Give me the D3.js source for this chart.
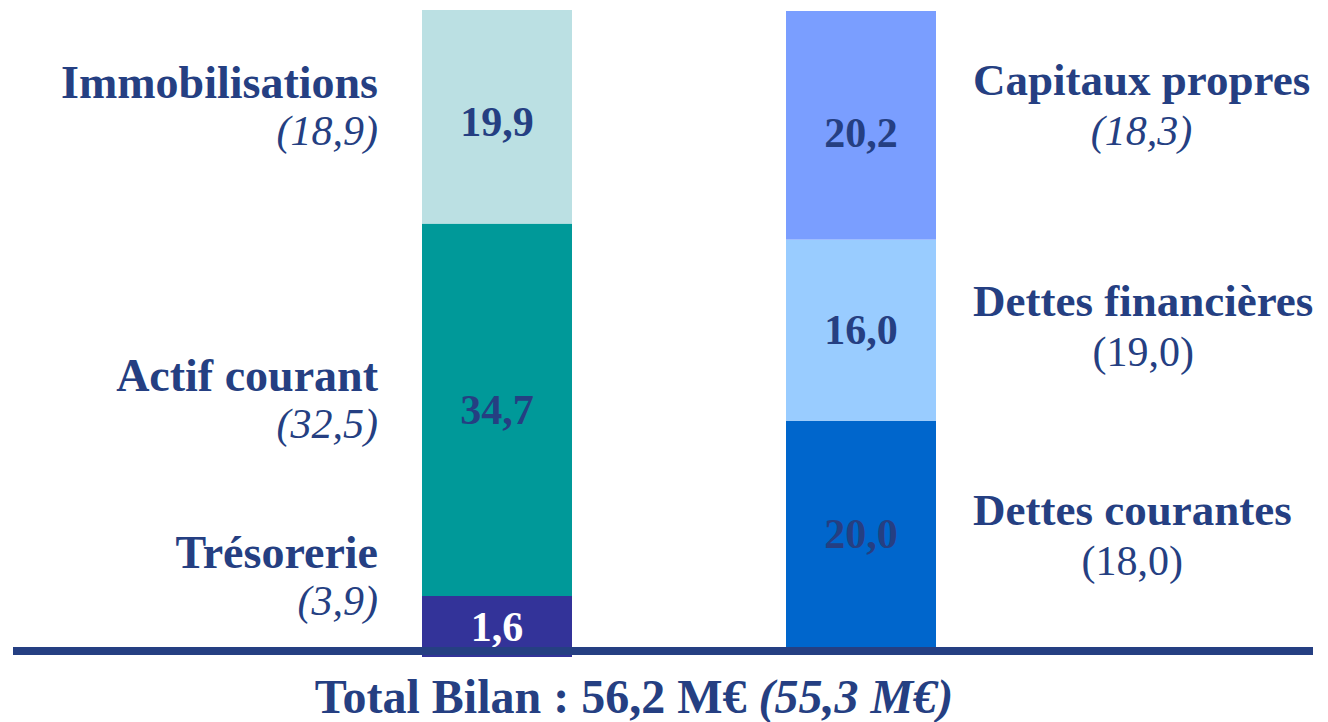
<!DOCTYPE html>
<html>
<head>
<meta charset="utf-8">
<script src="https://cdn.jsdelivr.net/npm/d3@7"></script>
<style>
  html, body { margin: 0; padding: 0; background: #fff; }
  svg { display: block; font-family: "Palatino Linotype", "Book Antiqua", Palatino, "Liberation Serif", serif; }
</style>
</head>
<body>
<script>
// Données (M€), de bas en haut
const actifCategories = ["Trésorerie", "Actif courant", "Immobilisations"];
const actifValues = [1.6, 34.7, 19.9];
const actifPrior = [3.9, 32.5, 18.9];
const actifColors = ["#333399", "#009999", "#bbe0e3"];
const actifValueColors = ["#ffffff", "#253f82", "#253f82"];

const passifCategories = ["Dettes courantes", "Dettes financières", "Capitaux propres"];
const passifValues = [20.0, 16.0, 20.2];
const passifPrior = [18.0, 19.0, 18.3];
const passifPriorItalic = [false, false, true];
const passifColors = ["#0066cc", "#99ccff", "#7a9eff"];

const totalBilan = 56.2;
const totalPrior = 55.3;

const width = 1328, height = 722;
const navy = "#253f82";
const fmt = v => d3.format(".1f")(v).replace(".", ",");

const svg = d3.select("body").append("svg")
  .attr("width", width).attr("height", height);

const baseY = 647;      // ligne de base
const minSeg = 61;      // hauteur mini d'un segment pour loger son étiquette

// empile une barre : petits segments agrandis, le reste à l'échelle
function stack(values, bottom, top) {
  const total = d3.sum(values);
  const k0 = d3.scaleLinear().domain([0, total]).range([0, bottom - top]);
  const small = values.filter(v => k0(v) < minSeg);
  const rest = total - d3.sum(small);
  const k = d3.scaleLinear().domain([0, rest])
    .range([0, bottom - top - small.length * minSeg]);
  let y = bottom;
  return values.map(v => {
    const h = k0(v) < minSeg ? minSeg : k(v);
    const seg = { y0: y - h, y1: y, v };
    y -= h;
    return seg;
  });
}

const bw = 150;
const xA = 422, xP = 786;

const segA = stack(actifValues, baseY + 10, 10);
const segP = stack(passifValues, baseY, 11);

// barres
svg.append("g").selectAll("rect").data(segA).join("rect")
  .attr("x", xA).attr("width", bw)
  .attr("y", d => d.y0).attr("height", d => d.y1 - d.y0)
  .attr("fill", (d, i) => actifColors[i]);

svg.append("g").selectAll("rect").data(segP).join("rect")
  .attr("x", xP).attr("width", bw)
  .attr("y", d => d.y0).attr("height", d => d.y1 - d.y0)
  .attr("fill", (d, i) => passifColors[i]);

// valeurs dans les barres
svg.append("g").selectAll("text").data(segA).join("text")
  .attr("x", xA + bw / 2).attr("y", (d, i) => (d.y0 + d.y1) / 2 + 14 + (i === 2 ? 5 : 0))
  .attr("text-anchor", "middle")
  .attr("font-weight", "bold").attr("font-size", 42)
  .attr("fill", (d, i) => actifValueColors[i])
  .text(d => fmt(d.v));

svg.append("g").selectAll("text").data(segP).join("text")
  .attr("x", xP + bw / 2).attr("y", (d, i) => (d.y0 + d.y1) / 2 + 14 + (i === 2 ? 8 : 0))
  .attr("text-anchor", "middle")
  .attr("font-weight", "bold").attr("font-size", 42)
  .attr("fill", navy)
  .text(d => fmt(d.v));

// étiquettes gauche (alignées à droite)
const labelMaxBottom = 615;
segA.forEach((d, i) => {
  let c = (d.y0 + d.y1) / 2 - 5;
  let b2 = Math.min(c + 33, labelMaxBottom);
  const g = svg.append("g");
  g.append("text")
    .attr("x", 378).attr("y", b2 - 47)
    .attr("text-anchor", "end")
    .attr("font-weight", "bold").attr("font-size", 46)
    .attr("fill", navy)
    .text(actifCategories[i]);
  g.append("text")
    .attr("x", 378).attr("y", b2)
    .attr("text-anchor", "end")
    .attr("font-style", "italic").attr("font-size", 42)
    .attr("fill", navy)
    .text("(" + fmt(actifPrior[i]) + ")");
});

// étiquettes droite (titre aligné à gauche, montant précédent centré dessous)
segP.forEach((d, i) => {
  const c = (d.y0 + d.y1) / 2 - (i === 2 ? 16 : 0) + (i === 0 ? 5 : 0);
  const t = svg.append("text")
    .attr("x", 973).attr("y", c - 14)
    .attr("font-weight", "bold").attr("font-size", 45)
    .attr("fill", navy)
    .text(passifCategories[i]);
  const w = t.node().getComputedTextLength();
  svg.append("text")
    .attr("x", 973 + w / 2).attr("y", c + 36)
    .attr("text-anchor", "middle")
    .attr("font-style", passifPriorItalic[i] ? "italic" : "normal")
    .attr("font-size", 42)
    .attr("fill", navy)
    .text("(" + fmt(passifPrior[i]) + ")");
});

// ligne de base
svg.append("rect")
  .attr("x", 13).attr("y", baseY).attr("width", 1300).attr("height", 8)
  .attr("fill", navy);

// total
const total = svg.append("text")
  .attr("x", 634).attr("y", 713)
  .attr("text-anchor", "middle")
  .attr("font-weight", "bold").attr("font-size", 48)
  .attr("fill", navy);
total.append("tspan").text("Total Bilan : " + fmt(totalBilan) + " M€ ");
total.append("tspan").attr("font-style", "italic").text("(" + fmt(totalPrior) + " M€)");
</script>
</body>
</html>
